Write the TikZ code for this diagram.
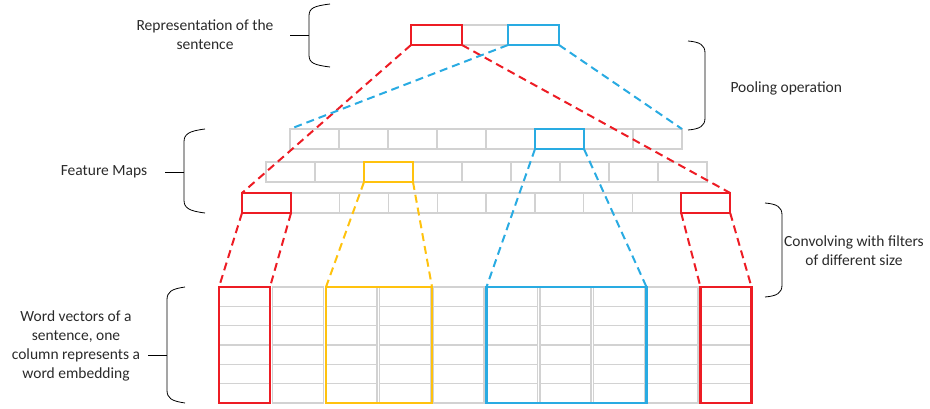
\documentclass[tikz,border=0pt]{standalone}
\usepackage{fontspec}
\setmainfont{Carlito}
\usepackage{tikz}
\usetikzlibrary{
    arrows.meta,
    positioning
}
\usepackage{xcolor}

\definecolor{selred}{HTML}{ED1C24}
\definecolor{selblue}{HTML}{29ABE2}
\definecolor{selyellow}{HTML}{FFC20E}
\definecolor{cellgray}{HTML}{D2D2D2}
\definecolor{labelgray}{HTML}{2A2A2A}

\begin{document}
\begin{tikzpicture}[
        x=1pt, y=-1pt,
        cell/.style={
            draw=cellgray,
            line width=1.2pt,
            minimum width=49pt,
            minimum height=20pt,
            inner sep=0pt,
            outer sep=0pt,
            anchor=north west
        },
        wordcol/.style={
            cell,
            minimum width=51pt,
            minimum height=116pt
        },
        sel/.style={
            cell,
            draw=#1,
            line width=2.2pt
        },
        link/.style={
            draw=#1,
            line width=2pt,
            dash pattern=on 8pt off 5pt
        },
        brace/.style={
            draw=black,
            line width=0.8pt
        },
        label/.style={
            text=labelgray,
            align=center,
            font=\fontsize{15.5}{19}\selectfont
        }
    ]
        \useasboundingbox (0,0) rectangle (930,409);

        % representation of the sentence
        \node[cell, minimum width=46pt] (rep-m) at (462,25) {};
        \node[sel=selred, minimum width=51pt] (rep-r) at (411,25) {};
        \node[sel=selblue, minimum width=51pt] (rep-b) at (508,25) {};

        % feature maps
        \foreach \i in {0,...,7}
            \node[cell] (fa-\i) at ({290+49*\i},129) {};
        \foreach \i in {0,...,8}
            \node[cell] (fb-\i) at ({266+49*\i},162) {};
        \foreach \i in {0,...,9}
            \node[cell] (fc-\i) at ({242+48.8*\i},193) {};
        \node[sel=selblue] (fa-s) at (fa-5.north west) {};
        \node[sel=selyellow] (fb-s) at (fb-2.north west) {};
        \node[sel=selred] (fc-s0) at (fc-0.north west) {};
        \node[sel=selred] (fc-s9) at (fc-9.north west) {};

        % word vectors
        \foreach \i in {0,...,9} {
            \node[wordcol] (wv-\i) at ({219+53.5*\i},287) {};
            \foreach \r in {1,...,5}
                \draw[cellgray, line width=1.2pt]
                    ({219+53.5*\i},{287+\r*116/6}) -- ++(51,0);
        }
        \node[sel=selred, minimum width=51pt, minimum height=116pt] (wv-s0) at (wv-0.north west) {};
        \node[sel=selyellow, minimum width=106pt, minimum height=116pt] (wv-sy) at (wv-2.north west) {};
        \node[sel=selblue, minimum width=160pt, minimum height=116pt] (wv-sb) at (wv-5.north west) {};
        \node[sel=selred, minimum width=51pt, minimum height=116pt] (wv-s9) at (wv-9.north west) {};

        % dashed links
        \draw[link=selred] (rep-r.south west) -- (fc-s0.north west);
        \draw[link=selred] (rep-r.south east) -- (fc-s9.north east);
        \draw[link=selblue] (rep-b.south west) -- (fa-0.north west);
        \draw[link=selblue] (rep-b.south east) -- (fa-7.north east);
        \draw[link=selblue] (fa-s.south west) -- (wv-sb.north west);
        \draw[link=selblue] (fa-s.south east) -- (wv-sb.north east);
        \draw[link=selyellow] (fb-s.south west) -- (wv-sy.north west);
        \draw[link=selyellow] (fb-s.south east) -- (wv-sy.north east);
        \draw[link=selred] (fc-s0.south west) -- (wv-s0.north west);
        \draw[link=selred] (fc-s0.south east) -- (wv-s0.north east);
        \draw[link=selred] (fc-s9.south west) -- (wv-s9.north west);
        \draw[link=selred] (fc-s9.south east) -- (wv-s9.north east);

        % braces
        \draw[brace] (330,4) .. controls (314,6) and (309,8) .. (309,16)
            -- (309,55) .. controls (309,63) and (314,65) .. (330,67);
        \coordinate (rep-tick) at (309,35);
        \draw[brace] (rep-tick) -- ++(-19,0);

        \draw[brace] (205,129) .. controls (189,131) and (184,134) .. (184,142)
            -- (184,200) .. controls (184,208) and (189,211) .. (205,213);
        \coordinate (fm-tick) at (184,172);
        \draw[brace] (fm-tick) -- ++(-19,0);

        \draw[brace] (688,41) .. controls (700,42) and (705,45) .. (705,53)
            -- (705,118) .. controls (705,126) and (700,129) .. (688,130);

        \draw[brace] (765,203) .. controls (777,204) and (782,207) .. (782,215)
            -- (782,285) .. controls (782,293) and (777,296) .. (765,297);

        \draw[brace] (185,287) .. controls (171,289) and (167,292) .. (167,300)
            -- (167,390) .. controls (167,398) and (171,401) .. (185,403);
        \coordinate (wv-tick) at (167,355);
        \draw[brace] (wv-tick) -- ++(-19,0);

        % labels
        \node[label] (rep-label) at (205,35) {Representation of the\\sentence};
        \node[label] (fm-label) at (104,172) {Feature Maps};
        \node[label, anchor=west] (pool-label) at (727,88) {Pooling operation};
        \node[label] (conv-label) at (854,251) {Convolving with filters\\of different size};
        \node[label] (wv-label) at (76,346) {Word vectors of a\\sentence, one\\column represents a\\word embedding};
    \end{tikzpicture}
\end{document}
